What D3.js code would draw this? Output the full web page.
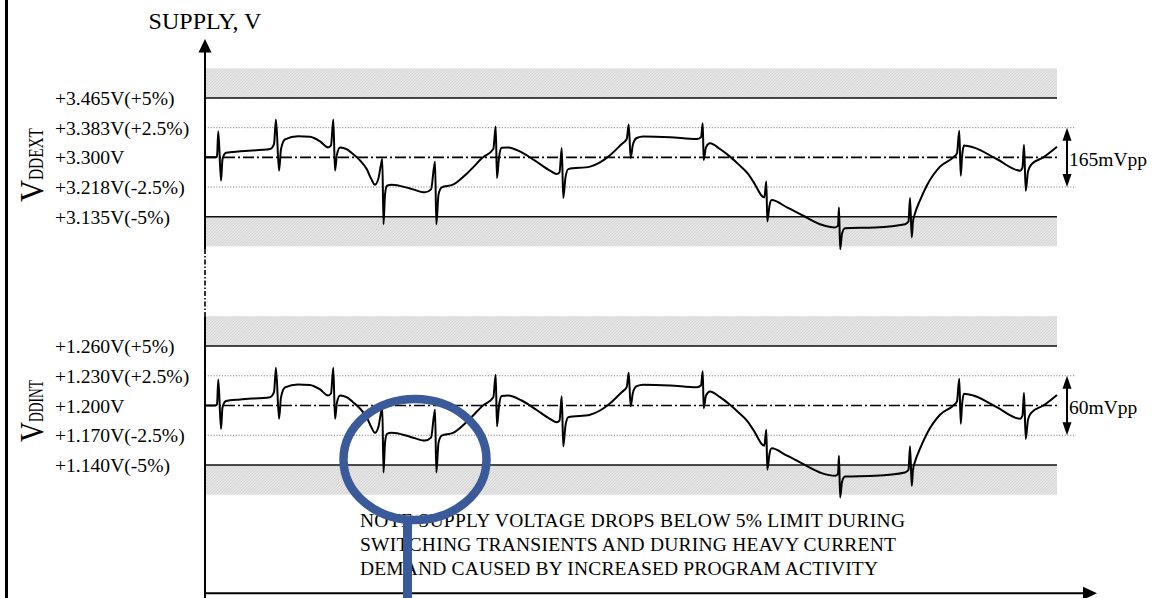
<!DOCTYPE html>
<html>
<head>
<meta charset="utf-8">
<script src="https://cdn.jsdelivr.net/npm/d3@7"></script>
<style>
  html, body { margin: 0; padding: 0; background: #fff; }
  svg { display: block; font-family: "Liberation Serif", "Times New Roman", serif; }
</style>
</head>
<body>
<svg id="chart" width="1162" height="598"></svg>
<script>
// Supply waveform: time in arbitrary units (0–100) and deviation from nominal in %
const time = [0,1.17,1.41,1.56,1.88,2.05,2.46,4.11,7.63,8.10,8.33,8.69,8.92,9.39,10.92,12.32,13.50,14.44,14.79,15.06,15.26,15.49,15.85,16.67,17.37,18.19,18.98,19.48,19.95,20.34,20.66,20.81,20.95,21.13,21.36,21.91,24.06,25.82,26.53,27.00,27.15,27.41,27.78,29.11,30.87,32.63,33.84,34.12,34.27,34.51,34.82,35.56,37.17,38.73,40.49,41.28,41.61,41.87,42.05,42.31,42.64,45.19,46.36,47.34,48.91,49.50,49.73,49.96,50.23,50.67,51.44,54.58,57.71,58.22,58.42,58.53,58.80,59.27,60.45,61.62,62.59,63.77,64.55,65.34,65.65,65.88,66.00,66.26,66.51,68.31,70.22,72.38,73.94,74.30,74.41,74.55,74.77,75.12,78.64,82.16,82.57,82.75,82.95,83.10,83.33,83.92,84.71,86.27,87.83,88.26,88.53,88.70,88.85,89.08,90.18,92.92,95.66,95.95,96.13,96.33,96.60,97.03,98.40,100];
const deviation = [0,0,0.08,2.19,-1.97,-0.17,0.38,0.51,0.70,1.12,3.18,-1.12,0.68,1.52,1.77,1.73,1.35,0.84,1.01,3.18,-1.12,0.25,0.84,0.68,0.28,-0.25,-0.99,-1.77,-2.30,-1.83,-0.59,-0.14,-5.63,-3.12,-2.39,-2.30,-2.62,-2.95,-2.70,-0.34,-5.63,-3.12,-2.53,-2.30,-1.27,0,0.70,2.59,-1.75,0,0.80,0.84,0.42,-0.28,-1.12,-1.41,-1.27,0.78,-3.43,-1.69,-0.99,-0.78,-0.42,0.06,1.12,1.54,2.76,-0.06,1.10,1.63,1.75,1.69,1.54,1.69,2.87,-0.23,0.84,1.18,0.70,0.06,-0.57,-1.41,-2.28,-3.23,-3.38,-2.03,-5.40,-4.05,-3.60,-4.22,-4.92,-5.68,-5.91,-5.74,-4.22,-7.74,-6.41,-5.97,-5.91,-5.63,-5.40,-3.43,-6.75,-5.40,-4.73,-3.63,-2.39,-0.78,0,0.34,2.25,-1.54,0,0.99,0.84,-0.14,-1.12,-0.84,1.07,-2.81,-1.18,-0.57,0,0.89];

// Tolerance levels (%) and their labels for each rail
const levels = [5, 2.5, 0, -2.5, -5];
const extLabels = ["+3.465V(+5%)", "+3.383V(+2.5%)", "+3.300V", "+3.218V(-2.5%)", "+3.135V(-5%)"];
const intLabels = ["+1.260V(+5%)", "+1.230V(+2.5%)", "+1.200V", "+1.170V(-2.5%)", "+1.140V(-5%)"];
const railNames = ["DDEXT", "DDINT"];
const rippleLabels = ["165mVpp", "60mVpp"];
const noteLines = [
  "NOTE SUPPLY VOLTAGE DROPS BELOW 5% LIMIT DURING",
  "SWITCHING TRANSIENTS AND DURING HEAVY CURRENT",
  "DEMAND CAUSED BY INCREASED PROGRAM ACTIVITY"
];

const svg = d3.select("#chart");
const x0 = 205, x1 = 1057;
const x = d3.scaleLinear().domain([0, 100]).range([x0, x1]);

const panels = [
  { y: d3.scaleLinear().domain([-5, 5]).range([216.7, 98]), labels: extLabels, rail: railNames[0], ripple: rippleLabels[0],
    vLen: 22, subLen: 52, vStart: 202 },
  { y: d3.scaleLinear().domain([-5, 5]).range([465, 346]), labels: intLabels, rail: railNames[1], ripple: rippleLabels[1],
    vLen: 20, subLen: 42, vStart: 442 }
];

// hatched fill for the out-of-tolerance bands
const defs = svg.append("defs");
const pat = defs.append("pattern").attr("id", "hatch").attr("patternUnits", "userSpaceOnUse")
  .attr("width", 3).attr("height", 3);
pat.append("rect").attr("width", 3).attr("height", 3).attr("fill", "#e4e4e4");
pat.append("path").attr("d", "M-1,1 L1,-1 M0,3 L3,0 M2,4 L4,2").attr("stroke", "#d2d2d2").attr("stroke-width", 0.8);

const waveData = d3.zip(time, deviation);
const line = d3.line().x(d => x(d[0])).curve(d3.curveMonotoneX);

panels.forEach(p => {
  const g = svg.append("g");
  const y = p.y;
  // bands beyond ±5%
  [[5, 7.5], [-7.5, -5]].forEach(([a, b]) => {
    g.append("rect").attr("x", x0).attr("width", x1 - x0)
      .attr("y", y(b)).attr("height", y(a) - y(b)).attr("fill", "url(#hatch)");
  });
  // ±2.5% dotted guides
  [2.5, -2.5].forEach(v => {
    g.append("line").attr("x1", x0).attr("x2", 1076).attr("y1", y(v)).attr("y2", y(v))
      .attr("stroke", "#888").attr("stroke-width", 1).attr("stroke-dasharray", "1.2,1.6");
  });
  // ±5% limits
  [5, -5].forEach(v => {
    g.append("line").attr("x1", x0).attr("x2", x1).attr("y1", y(v)).attr("y2", y(v))
      .attr("stroke", "#111").attr("stroke-width", 1.6);
  });
  // nominal
  g.append("line").attr("x1", x0).attr("x2", x1).attr("y1", y(0)).attr("y2", y(0))
    .attr("stroke", "#000").attr("stroke-width", 1.7).attr("stroke-dasharray", "11,3,2,3");
  // waveform
  g.append("path").datum(waveData)
    .attr("d", line.y(d => y(d[1])))
    .attr("fill", "none").attr("stroke", "#000").attr("stroke-width", 2).attr("stroke-linejoin", "round");
  // level labels
  g.selectAll("text.lvl").data(levels).join("text").attr("class", "lvl")
    .attr("x", 55).attr("y", v => y(v)).attr("dy", "0.36em")
    .attr("font-size", 19.6).attr("fill", "#000")
    .text((v, i) => p.labels[i]);
  // rail name, rotated
  const r = g.append("g").attr("transform", `translate(43,${p.vStart}) rotate(-90)`);
  r.append("text").attr("x", 0).attr("y", 0).attr("font-size", 34)
    .attr("textLength", p.vLen).attr("lengthAdjust", "spacingAndGlyphs").text("V");
  r.append("text").attr("x", p.vLen).attr("y", 0).attr("font-size", 21)
    .attr("textLength", p.subLen).attr("lengthAdjust", "spacingAndGlyphs").text(p.rail);
  // ripple arrow
  const ax = 1067, top = y(2.5), bot = y(-2.5);
  g.append("line").attr("x1", ax).attr("x2", ax).attr("y1", top + 10).attr("y2", bot - 10)
    .attr("stroke", "#000").attr("stroke-width", 2);
  g.append("path").attr("d", `M${ax},${top} L${ax - 4.5},${top + 13} L${ax + 4.5},${top + 13} Z`).attr("fill", "#000");
  g.append("path").attr("d", `M${ax},${bot} L${ax - 4.5},${bot - 13} L${ax + 4.5},${bot - 13} Z`).attr("fill", "#000");
  g.append("text").attr("x", 1069).attr("y", y(0)).attr("dy", "0.42em").attr("font-size", 19.5).text(p.ripple);
});

// axes
const axisG = svg.append("g").attr("stroke", "#000");
axisG.append("line").attr("x1", x0).attr("x2", x0).attr("y1", 50).attr("y2", 249).attr("stroke-width", 2);
axisG.append("line").attr("x1", x0).attr("x2", x0).attr("y1", 249).attr("y2", 317).attr("stroke-width", 1.6)
  .attr("stroke-dasharray", "5,2,1.5,2");
axisG.append("line").attr("x1", x0).attr("x2", x0).attr("y1", 317).attr("y2", 598).attr("stroke-width", 2);
svg.append("path").attr("d", `M${x0},39 L${x0 - 6.5},52.5 L${x0 + 6.5},52.5 Z`).attr("fill", "#000");
axisG.append("line").attr("x1", x0).attr("x2", 1085).attr("y1", 593.3).attr("y2", 593.3).attr("stroke-width", 2);
svg.append("path").attr("d", "M1097,593.3 L1083,586.8 L1083,599.8 Z").attr("fill", "#000");

svg.append("text").attr("x", x0).attr("y", 28.5).attr("text-anchor", "middle").attr("font-size", 24).text("SUPPLY, V");

// frame edge on the left
svg.append("line").attr("x1", 6.5).attr("x2", 6.5).attr("y1", 0).attr("y2", 598).attr("stroke", "#000").attr("stroke-width", 3);

// note
const noteLen = [545, 536, 518];
const noteY = [527, 551, 575];
svg.selectAll("text.note").data(noteLines).join("text").attr("class", "note")
  .attr("x", 360).attr("y", (d, i) => noteY[i]).attr("font-size", 19.5)
  .attr("textLength", (d, i) => noteLen[i]).attr("lengthAdjust", "spacing")
  .text(d => d);

// magnifier mark
const blue = "#3a5a99";
svg.append("line").attr("x1", 407.5).attr("x2", 407.5).attr("y1", 518).attr("y2", 598)
  .attr("stroke", blue).attr("stroke-width", 9);
svg.append("ellipse").attr("cx", 415).attr("cy", 459.5).attr("rx", 71.5).attr("ry", 60.5)
  .attr("fill", "none").attr("stroke", blue).attr("stroke-width", 8.5);
</script>
</body>
</html>
